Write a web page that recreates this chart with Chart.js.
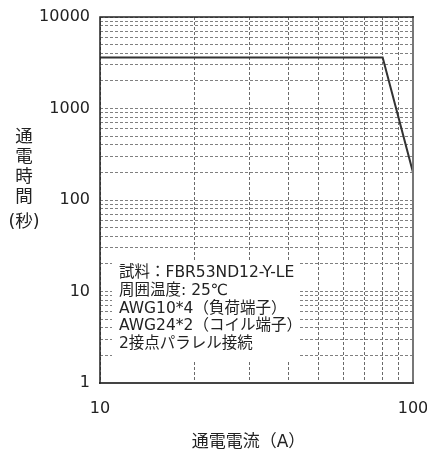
<!DOCTYPE html>
<html><head><meta charset="utf-8">
<script src="https://cdn.jsdelivr.net/npm/chart.js@4/dist/chart.umd.min.js"></script>
<style>html,body{margin:0;padding:0;background:#fff;}#wrap{width:427px;height:457px;position:relative;}</style>
</head><body><div id="wrap"><canvas id="c"></canvas></div>
<script>
// ---- data ----
const currentA = [10, 80, 100];
const durationS = [3600, 3600, 200];
const xGridValues = [10, 20, 30, 40, 50, 60, 70, 80, 90, 100];
const yGridValues = [1, 2, 3, 4, 5, 6, 7, 8, 9,
  10, 20, 30, 40, 50, 60, 70, 80, 90,
  100, 200, 300, 400, 500, 600, 700, 800, 900,
  1000, 2000, 3000, 4000, 5000, 6000, 7000, 8000, 9000, 10000];
const xTickLabels = ['10', '100'];
const yTickLabels = ['1', '10', '100', '1000', '10000'];
const xTitle = '通電電流（A）';
const yTitleParts = ['通', '電', '時', '間', '(秒)'];
const noteLines = ['試料：FBR53ND12-Y-LE', '周囲温度: 25℃', 'AWG10*4（負荷端子）', 'AWG24*2（コイル端子）', '2接点パラレル接続'];

const FONT = '"DejaVu Sans", "Noto Sans CJK JP", sans-serif';
const points = currentA.map((x, i) => ({x: x, y: durationS[i]}));

const decor = {
  id: 'decor',
  beforeDatasetsDraw(chart) {
    const {ctx, chartArea: a} = chart;
    ctx.save();
    ctx.fillStyle = '#ffffff';
    ctx.fillRect(a.left + 12, a.top + 245, 188, 100);
    ctx.fillStyle = '#222';
    ctx.font = '15.5px ' + FONT;
    ctx.textAlign = 'left';
    ctx.textBaseline = 'middle';
    noteLines.forEach((t, i) => ctx.fillText(t, a.left + 19, a.top + 256 + i * 17.8));
    ctx.restore();
  },
  afterDraw(chart) {
    const {ctx, chartArea: a} = chart;
    ctx.save();
    ctx.lineCap = 'square';
    ctx.strokeStyle = '#777';
    ctx.lineWidth = 2;
    ctx.beginPath();
    ctx.moveTo(a.right, a.top); ctx.lineTo(a.right, a.bottom);
    ctx.stroke();
    ctx.strokeStyle = '#444';
    ctx.beginPath();
    ctx.moveTo(a.left, a.bottom); ctx.lineTo(a.right, a.bottom);
    ctx.stroke();
    ctx.strokeStyle = '#222';
    ctx.lineWidth = 1.5;
    ctx.beginPath();
    ctx.moveTo(a.left, a.bottom); ctx.lineTo(a.left, a.top); ctx.lineTo(a.right, a.top);
    ctx.stroke();
    // titles
    ctx.fillStyle = '#222';
    ctx.font = '17.5px ' + FONT;
    ctx.textAlign = 'center';
    ctx.textBaseline = 'middle';
    const ys = [137, 157, 177, 197, 222];
    yTitleParts.forEach((t, i) => ctx.fillText(t, 24, ys[i]));
    ctx.font = '17px ' + FONT;
    ctx.fillText(xTitle, (a.left + a.right) / 2 - 8, 443);
    ctx.restore();
  }
};

new Chart(document.getElementById('c'), {
  type: 'line',
  data: {
    datasets: [{
      data: points,
      borderColor: '#333',
      borderWidth: 2,
      pointRadius: 0,
      fill: false,
      tension: 0
    }]
  },
  options: {
    responsive: true,
    maintainAspectRatio: false,
    animation: false,
    devicePixelRatio: 1,
    layout: {padding: {left: 0, top: 17, right: 14, bottom: 0}},
    plugins: {legend: {display: false}, tooltip: {enabled: false}, title: {display: false}},
    scales: {
      x: {
        type: 'logarithmic',
        min: 10, max: 100,
        afterBuildTicks: s => { s.ticks = xGridValues.map(v => ({value: v})); },
        afterFit: s => { s.height = 74; s.paddingLeft = 0; s.paddingRight = 0; },
        ticks: {
          autoSkip: false, maxRotation: 0, padding: 16,
          color: '#222', font: {family: FONT, size: 16},
          callback: (v) => xTickLabels.includes(String(v)) ? String(v) : ''
        },
        grid: {color: '#6a6a6a', lineWidth: 1, drawTicks: false},
        border: {display: false, dash: [3, 2]}
      },
      y: {
        type: 'logarithmic',
        min: 1, max: 10000,
        afterBuildTicks: s => { s.ticks = yGridValues.map(v => ({value: v})); },
        afterFit: s => { s.width = 100; s.paddingTop = 0; s.paddingBottom = 0; },
        ticks: {
          autoSkip: false, padding: 10,
          color: '#222', font: {family: FONT, size: 16},
          callback: (v) => yTickLabels.includes(String(v)) ? String(v) : ''
        },
        grid: {color: '#808080', lineWidth: 1, drawTicks: false},
        border: {display: false, dash: [3, 2]}
      }
    }
  },
  plugins: [decor]
});
</script>
</body></html>
